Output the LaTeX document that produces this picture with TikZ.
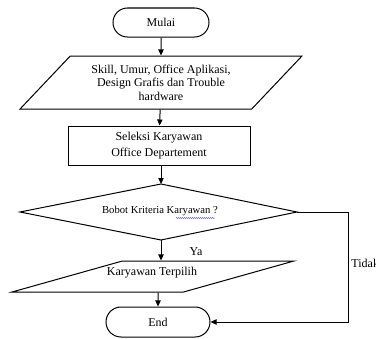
\documentclass[tikz,border=0pt]{standalone}
\usepackage{fontspec}
\setmainfont{Liberation Serif}
\usetikzlibrary{shapes.geometric,shapes.misc,arrows.meta,decorations.pathmorphing}

\tikzset{every picture/.style={line width=0.75pt}}
\tikzset{
  terminal/.style={draw, rounded rectangle, inner sep=0.75pt, font=\fontsize{9pt}{10.2pt}\selectfont},
  proses/.style={draw, rectangle, inner sep=0.75pt, align=center, font=\fontsize{9pt}{11.5pt}\selectfont},
  dataio/.style={draw, trapezium, trapezium stretches=true, inner sep=0.75pt, align=center, font=\fontsize{9pt}{10.2pt}\selectfont},
  panah/.style={-{Triangle[length=4.5pt,width=4pt]}},
  teks/.style={inner sep=0.75pt, font=\fontsize{9pt}{10.2pt}\selectfont}
}

\begin{document}
\begin{tikzpicture}[x=0.75pt,y=0.75pt,yscale=-1,xscale=1]
	\useasboundingbox (0,0) rectangle (376,339);
	
	%Terminal mulai
	\node [terminal, minimum width=73.5pt, minimum height=21.75pt] (mulai) at (161,22.5) {Mulai};
	%Input data
	\node [dataio, trapezium left angle=44, trapezium right angle=136, minimum width=211.5pt, minimum height=39.75pt] (input) at (161,82.5) {Skill, Umur, Office Aplikasi,\\Design Grafis dan Trouble\\hardware};
	%Proses seleksi
	\node [proses, minimum width=136.5pt, minimum height=29.25pt] (seleksi) at (159,145.5) {Seleksi Karyawan\\Office Departement};
	%Keputusan
	\node [inner sep=0.75pt, font=\fontsize{8pt}{9pt}\selectfont] (bobot) at (160,211) {Bobot Kriteria Karyawan ?};
	\coordinate (bkiri) at (20,212);
	\coordinate (batas) at (161,184);
	\coordinate (bkanan) at (297,212);
	\coordinate (bbawah) at (161,240);
	\draw (bkiri) -- (batas) -- (bkanan) -- (bbawah) -- cycle;
	%Output
	\node [dataio, trapezium left angle=29, trapezium right angle=151, minimum width=211.5pt, minimum height=23.25pt] (hasil) at (153,276.5) {};
	\node [teks] (hasilteks) at (152,272.5) {Karyawan Terpilih};
	%Terminal end
	\node [terminal, minimum width=79.5pt, minimum height=22.5pt] (end) at (158,322) {End};
	
	%garis bantu Tidak
	\coordinate (tk) at (348,212);
	
	%Straight Lines
	\draw [panah] (mulai) -- (input);
	\draw [panah] (input) -- (seleksi);
	\draw [panah] (seleksi.south -| batas) -- (batas);
	\draw [panah] (bbawah) -- (hasil.north -| bbawah);
	\draw [panah] (hasil.south -| end.north) -- (end);
	\draw [panah] (bkanan) -- (tk) |- (end.east);
	
	%Text Node
	\node [teks, anchor=center] (ya) at (196,252) {Ya};
	\node [teks, anchor=west] (tidak) at (350,263) {Tidak};
	%garis ejaan
	\draw [blue!80, line width=0.3pt, decorate, decoration={snake, amplitude=0.4pt, segment length=1.5pt}] (176,218) -- (215,218);
	
\end{tikzpicture}
\end{document}
